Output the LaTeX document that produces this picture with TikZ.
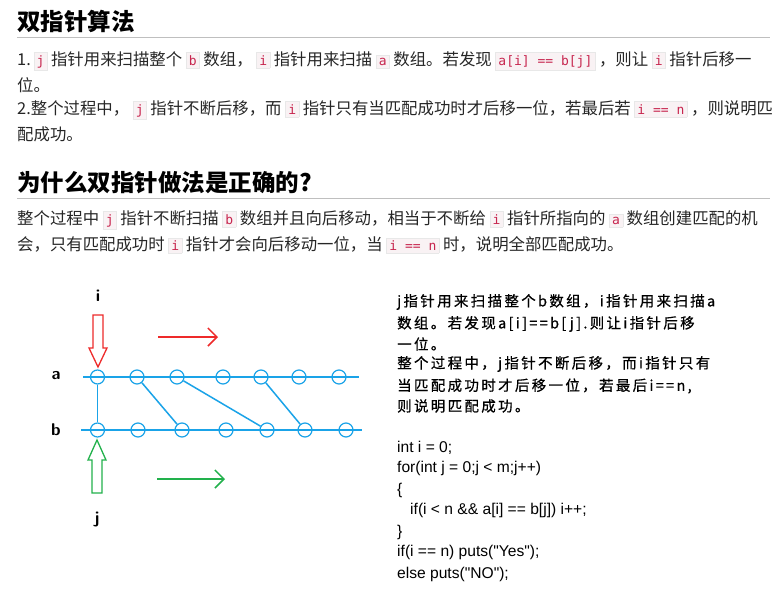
\documentclass[tikz,border=0pt]{standalone}
\usepackage{fontspec}
\setmainfont{Noto Sans}
\setmonofont{DejaVu Sans Mono}
\newfontfamily\cjk{Noto Sans CJK SC}
\newfontfamily\cjks[LetterSpace=16,FakeBold=0.6]{Noto Sans CJK SC}
\newfontfamily\codef{Liberation Sans}
\usetikzlibrary{arrows.meta}
\definecolor{codered}{HTML}{C7254E}
\definecolor{codebg}{HTML}{F9F2F4}
\definecolor{codebd}{HTML}{E8E8E8}
\definecolor{lineblue}{HTML}{1AA3E8}
\definecolor{hred}{HTML}{EE2A2A}
\definecolor{hgreen}{HTML}{22B14C}
\newcommand{\cd}[1]{\setlength{\fboxsep}{2.5pt}\setlength{\fboxrule}{0.5pt}\fcolorbox{codebd}{codebg}{\textcolor{codered}{\ttfamily\fontsize{13}{14}\selectfont #1}}}
\tikzset{
  heading/.style={anchor=west,inner sep=0,font=\cjk\bfseries\fontsize{23.5}{25}\selectfont},
  para/.style={anchor=west,inner sep=0,font=\cjk\fontsize{16.4}{19}\selectfont,text=black!85},
  side/.style={anchor=west,inner sep=0,font=\cjks\fontsize{14.5}{16}\selectfont},
  codeline/.style={anchor=west,inner sep=0,font=\codef\fontsize{15.6}{17}\selectfont},
  dot/.style={circle,draw=lineblue,line width=1.2pt,minimum size=14pt,inner sep=0},
  blue/.style={draw=lineblue,line width=1.5pt},
  lbl/.style={font=\sffamily\bfseries\fontsize{17}{18}\selectfont,inner sep=0}
}
\begin{document}
\begin{tikzpicture}[x=1pt,y=-1pt]
\useasboundingbox[fill=white] (0,0) rectangle (777,597);
\node[heading] (h1) at (17,22) {双指针算法};
\draw[black!25,line width=0.8pt] (17,37) -- (770,37);
\node[para] (p1) at (17,61) {1.\,\cd{j} 指针用来扫描整个 \cd{b} 数组， \cd{i} 指针用来扫描 \cd{a} 数组。若发现 \cd{a[i] == b[j]} ，则让 \cd{i} 指针后移一};
\node[para] (p2) at (17,85) {位。};
\node[para] (p3) at (17,110) {2.整个过程中， \cd{j} 指针不断后移，而 \cd{i} 指针只有当匹配成功时才后移一位，若最后若 \cd{i == n} ，则说明匹};
\node[para] (p4) at (17,134) {配成功。};
\node[heading] (h2) at (17,183) {为什么双指针做法是正确的?};
\draw[black!25,line width=0.8pt] (17,198) -- (770,198);
\node[para] (p5) at (17,220) {整个过程中 \cd{j} 指针不断扫描 \cd{b} 数组并且向后移动，相当于不断给 \cd{i} 指针所指向的 \cd{a} 数组创建匹配的机};
\node[para] (p6) at (17,245) {会，只有匹配成功时 \cd{i} 指针才会向后移动一位，当 \cd{i == n} 时，说明全部匹配成功。};

% diagram
\node[lbl] (li) at (98,296) {i};
\node[lbl] (lj) at (97,520) {j};
\node[lbl] (la) at (56,376) {a};
\node[lbl] (lb) at (56,430) {b};
\coordinate (as) at (83,377); \coordinate (ae) at (359,377);
\coordinate (bs) at (81,430); \coordinate (be) at (362,430);
\draw[blue] (as) -- (ae);
\draw[blue] (bs) -- (be);
\foreach \x [count=\k from 0] in {97.5,137,177,223,261,299,339} \node[dot] (a\k) at (\x,377) {};
\foreach \x [count=\k from 0] in {97.5,138,182,226,267,305,346} \node[dot] (b\k) at (\x,430) {};
\draw[blue] (a0) -- (b0);
\draw[blue] (a1) -- (b2);
\draw[blue] (a2) -- (b4);
\draw[blue] (a4) -- (b5);
% hollow arrows
\draw[hred,line width=1.3pt,line join=miter] (93,315) -- (103,315) -- (103,348) -- (107,348) -- (98,367) -- (89,348) -- (93,348) -- cycle;
\draw[hgreen,line width=1.3pt,line join=miter] (92,493) -- (102,493) -- (102,460) -- (106,460) -- (97,440) -- (88,460) -- (92,460) -- cycle;
\coordinate (r1) at (158,337); \coordinate (r2) at (218,337);
\coordinate (g1) at (157,479); \coordinate (g2) at (225,479);
\draw[hred,line width=1.5pt,-{Straight Barb[length=9pt,width=18pt]}] (r1) -- (r2);
\draw[hgreen,line width=1.5pt,-{Straight Barb[length=9pt,width=18pt]}] (g1) -- (g2);

% side text
\node[side] (s1) at (397,302) {j指针用来扫描整个b数组，i指针用来扫描a};
\node[side] (s2) at (397,324) {数组。若发现a[i]==b[j].则让i指针后移};
\node[side] (s3) at (397,344) {一位。};
\node[side] (s4) at (397,364) {整个过程中，j指针不断后移，而i指针只有};
\node[side] (s5) at (397,386) {当匹配成功时才后移一位，若最后i==n,};
\node[side] (s6) at (397,406) {则说明匹配成功。};
\node[codeline] (c1) at (397,448) {int i = 0;};
\node[codeline] (c2) at (397,468) {for(int j = 0;j < m;j++)};
\node[codeline] (c3) at (397,490) {\{};
\node[codeline] (c4) at (397,510) {\ \ \ if(i < n \&\& a[i] == b[j]) i++;};
\node[codeline] (c5) at (397,532) {\}};
\node[codeline] (c6) at (397,552) {if(i == n) puts("Yes");};
\node[codeline] (c7) at (397,574) {else puts("NO");};
\end{tikzpicture}
\end{document}
